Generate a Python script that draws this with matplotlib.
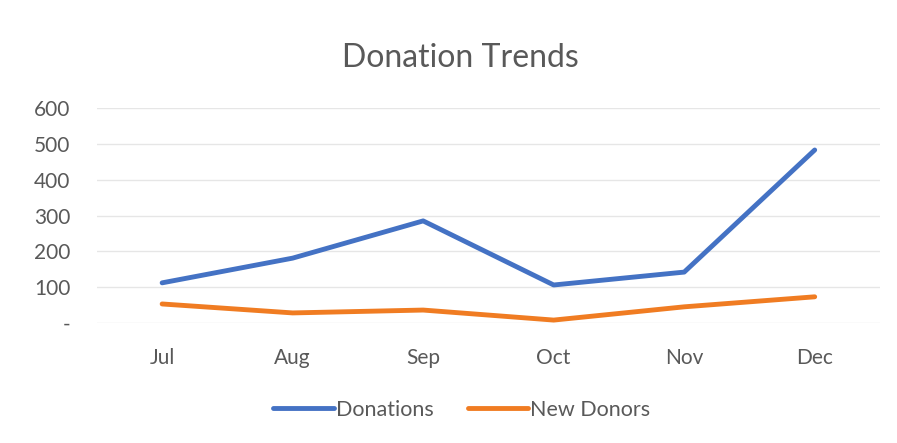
import matplotlib.pyplot as plt

months = ["Jul", "Aug", "Sep", "Oct", "Nov", "Dec"]
donations = [112, 181, 285, 106, 142, 483]
new_donors = [53, 28, 36, 8, 45, 73]
y_ticks = [0, 100, 200, 300, 400, 500, 600]
y_labels = ["-", "100", "200", "300", "400", "500", "600"]

plt.rcParams['font.family'] = ['Lato', 'DejaVu Sans']
text_color = '#595959'

fig = plt.figure(figsize=(8.97, 4.43), dpi=100)
ax = fig.add_axes([0.108, 0.271, 0.873, 0.485])

x = range(len(months))
ax.plot(x, donations, color='#4472C4', linewidth=3.5, solid_capstyle='round', label="Donations")
ax.plot(x, new_donors, color='#F07C22', linewidth=3.5, solid_capstyle='round', label="New Donors")

ax.set_xlim(-0.5, len(months) - 0.5)
ax.set_ylim(0, 600)
ax.set_xticks(list(x))
ax.set_xticklabels(months)
ax.set_yticks(y_ticks)
ax.set_yticklabels(y_labels)
ax.tick_params(axis='both', length=0, labelsize=15, colors=text_color)
ax.tick_params(axis='x', pad=18)
ax.tick_params(axis='y', pad=19)
ax.grid(axis='y', color='#E6E6E6', linewidth=1)
ax.set_axisbelow(True)
for s in ax.spines.values():
    s.set_visible(False)

fig.text(0.513, 0.87, "Donation Trends", ha='center', va='center', fontsize=23, color=text_color)

fig.legend(loc='center', bbox_to_anchor=(0.515, 0.075), ncol=2, frameon=False,
           fontsize=15.5, labelcolor=text_color, handlelength=2.8, handletextpad=0.1,
           columnspacing=1.6)

fig.savefig("out.png", dpi=100)
